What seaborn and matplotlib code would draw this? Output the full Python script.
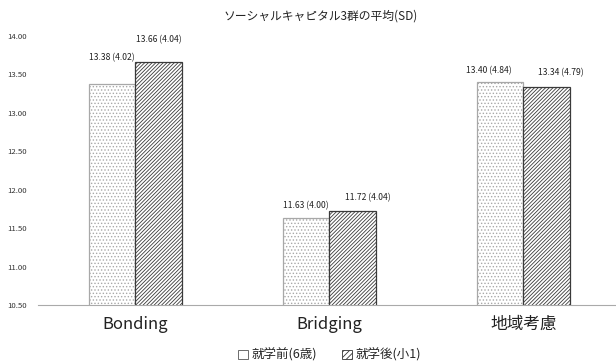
import matplotlib
matplotlib.use("Agg")
import matplotlib.pyplot as plt
from matplotlib.patches import Patch
import seaborn as sns
import pandas as pd

categories = ["Bonding", "Bridging", "地域考慮"]
groups = ["就学前(6歳)", "就学後(小1)"]
mean_before = [13.38, 11.63, 13.40]
sd_before = [4.02, 4.00, 4.84]
mean_after = [13.66, 11.72, 13.34]
sd_after = [4.04, 4.04, 4.79]
yticks = [10.5, 11.0, 11.5, 12.0, 12.5, 13.0, 13.5, 14.0]
title = "ソーシャルキャピタル3群の平均(SD)"

sns.set_theme(style="white")
plt.rcParams["font.family"] = ["Noto Sans CJK JP", "DejaVu Sans"]
plt.rcParams["hatch.linewidth"] = 0.6

df = pd.DataFrame({
    "cat": categories * 2,
    "grp": [groups[0]] * 3 + [groups[1]] * 3,
    "val": mean_before + mean_after,
    "sd": sd_before + sd_after,
})

fig = plt.figure(figsize=(6.16, 3.63), dpi=100)
ax = fig.add_axes([0.062, 0.1598, 0.945, 0.741])

sns.barplot(data=df, x="cat", y="val", hue="grp", order=categories,
            hue_order=groups, width=0.48, dodge=True, ax=ax,
            legend=False, errorbar=None)

styles = [
    dict(facecolor="white", edgecolor="#a8a8a8", hatch=".....", lw=0.9),
    dict(facecolor="white", edgecolor="#3a3a3a", hatch="/////////", lw=0.9),
]
# label offsets in points (dx, dy) per bar
offsets = [
    [(0, 19), (0, 9), (-8, 8)],
    [(0, 16), (11, 10), (10, 10)],
]
for gi, cont in enumerate(ax.containers):
    st = styles[gi]
    vals = mean_before if gi == 0 else mean_after
    sds = sd_before if gi == 0 else sd_after
    for bi, p in enumerate(cont.patches):
        p.set_facecolor(st["facecolor"])
        p.set_edgecolor(st["edgecolor"])
        p.set_hatch(st["hatch"])
        p.set_linewidth(st["lw"])
        cx = p.get_x() + p.get_width() / 2
        top = p.get_height()
        dx, dy = offsets[gi][bi]
        ax.annotate(f"{vals[bi]:.2f} ({sds[bi]:.2f})", xy=(cx, top),
                    xytext=(dx, dy), textcoords="offset points",
                    ha="center", va="center", fontsize=6.2, color="#222222")

ax.set_ylim(10.5, 14.0)
ax.set_xlim(-0.5, 2.5)
ax.set_yticks(yticks)
ax.set_yticklabels([f"{t:.2f}" for t in yticks], fontsize=5.6, color="#333333")
ax.tick_params(axis="y", length=0, pad=8)
ax.tick_params(axis="x", length=0, labelsize=12, pad=8, colors="#222222")
ax.set_xlabel("")
ax.set_ylabel("")
for s in ["top", "right", "left"]:
    ax.spines[s].set_visible(False)
ax.spines["bottom"].set_color("#aaaaaa")
ax.spines["bottom"].set_linestyle((0, (1, 1)))
ax.spines["bottom"].set_linewidth(0.8)

fig.text(0.52, 0.955, title, ha="center", va="center", fontsize=8.5, color="#222222")

handles = [
    Patch(facecolor="white", edgecolor="#555555", lw=0.6, label=groups[0]),
    Patch(facecolor="white", edgecolor="#333333", hatch="//////", lw=0.6, label=groups[1]),
]
fig.legend(handles=handles, loc="center", bbox_to_anchor=(0.535, 0.022),
           ncol=2, frameon=False, fontsize=9, handlelength=0.8,
           handleheight=0.8, handletextpad=0.3, columnspacing=2.0)

fig.savefig("out.png", dpi=100)
